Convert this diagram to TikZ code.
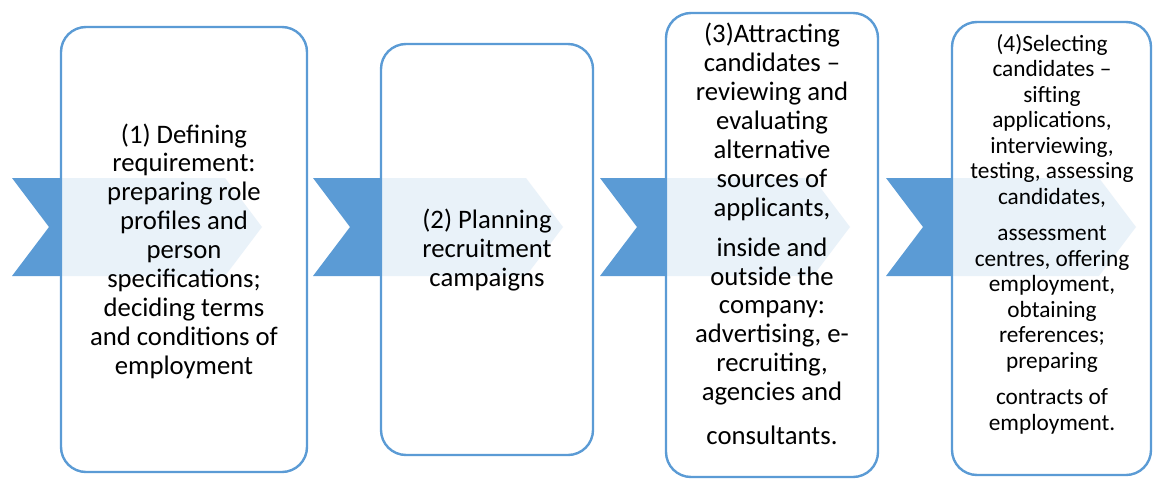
\documentclass[tikz,border=0pt]{standalone}
\usepackage{fontspec}
\setmainfont{Carlito}
\definecolor{stepblue}{HTML}{5B9BD5}
\begin{document}
\begin{tikzpicture}[x=1pt,y=-1pt,
  chevron/.style={fill=stepblue,draw=none},
  stagebox/.style={draw=stepblue,line width=2.4pt,fill=white,fill opacity=0.87,
    rounded corners=25pt},
  bigtext/.style={align=center,inner sep=0pt,text opacity=1,
    font=\fontsize{26.7}{28.9}\selectfont},
  smalltext/.style={align=center,inner sep=0pt,text opacity=1,
    font=\fontsize{23.3}{25.5}\selectfont}]
\useasboundingbox (0,0) rectangle (1153,479);
% chevron arrows behind the stage boxes
\foreach \L in {12,313,600,886}{
  \fill[chevron] (\L,178) -- (\L+213,178) -- (\L+250,227) -- (\L+213,276)
    -- (\L,276) -- (\L+37,227) -- cycle;
}
% stage boxes
\draw[stagebox] (61,27) rectangle (307,472);
\draw[stagebox] (381,44) rectangle (593,455);
\draw[stagebox] (666,13) rectangle (878,477);
\draw[stagebox] (952,22) rectangle (1151,475);
% stage texts
\node[bigtext] (t1) at (184,251) {(1) Defining\\requirement:\\preparing role\\profiles and\\person\\specifications;\\deciding terms\\and conditions of\\employment};
\node[bigtext] (t2) at (487,250) {(2) Planning\\recruitment\\campaigns};
\node[bigtext] (t3) at (772,234) {(3)Attracting\\candidates --\\reviewing and\\evaluating\\alternative\\sources of\\applicants,\\[11pt]inside and\\outside the\\company:\\advertising, e-\\recruiting,\\agencies and\\[15pt]consultants.};
\node[smalltext] (t4) at (1052,234) {(4)Selecting\\candidates --\\sifting\\applications,\\interviewing,\\testing, assessing\\candidates,\\[11pt]assessment\\centres, offering\\employment,\\obtaining\\references;\\preparing\\[11pt]contracts of\\employment.};
\end{tikzpicture}
\end{document}
